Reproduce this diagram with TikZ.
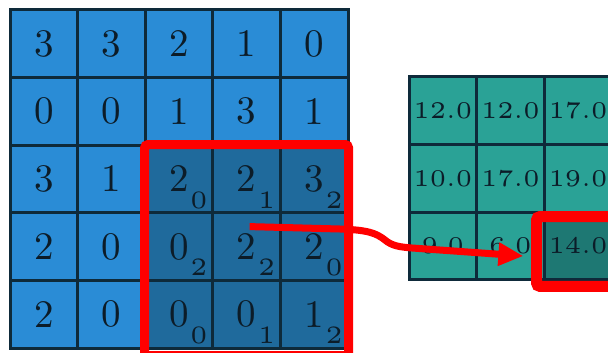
\documentclass[tikz,border=0pt]{standalone}
\usepackage{xcolor}
\usetikzlibrary{positioning,arrows.meta}

\definecolor{inblue}{RGB}{42,140,214}
\definecolor{indark}{RGB}{31,106,156}
\definecolor{outteal}{RGB}{42,162,150}
\definecolor{outdark}{RGB}{30,120,115}
\definecolor{gridline}{RGB}{14,42,58}
\definecolor{digit}{RGB}{12,28,40}

\newcommand{\bignum}[1]{\scalebox{3.9}{#1}}
\newcommand{\smallnum}[1]{\scalebox{4.8}{\tiny #1}}
\newcommand{\subnum}[1]{\scalebox{5.0}{\tiny #1}}

\begin{document}
\begin{tikzpicture}[x=1pt,y=-1pt,
      incell/.style={draw=gridline,line width=3pt,minimum size=67.6pt,inner sep=0pt,fill=inblue,text=digit},
      outcell/.style={draw=gridline,line width=3pt,minimum size=67.6pt,inner sep=0pt,fill=outteal,text=digit},
      sub/.style={inner sep=0pt,text=digit},
      hilite/.style={draw=red,line width=9pt,rounded corners=3pt},
      arr/.style={draw=red,line width=7pt,-{Triangle[length=25pt,width=22pt]}}]
    \useasboundingbox (0,0) rectangle (608,353);
    \clip (0,0) rectangle (608,353);
    % input feature map
    \foreach \row [count=\r from 0] in {{3,3,2,1,0},{0,0,1,3,1},{3,1,2,2,3},{2,0,0,2,2},{2,0,0,0,1}} {
      \foreach \v [count=\c from 0] in \row {
        \def\fillc{inblue}\ifnum\r>1 \ifnum\c>1 \def\fillc{indark}\fi\fi
        \node[incell,fill=\fillc] (in\r\c) at (43.8+67.6*\c, 43.8+67.6*\r) {\bignum{\v}};
      }
    }
    % kernel weights
    \foreach \r/\c/\w in {2/2/0,2/3/1,2/4/2,3/2/2,3/3/2,3/4/0,4/2/0,4/3/1,4/4/2}
      \node[sub] (w\r\c) at ([shift={(20,21)}]in\r\c.center) {\subnum{\w}};
    % output feature map
    \foreach \row [count=\r from 0] in {{12.0,12.0,17.0},{10.0,17.0,19.0},{9.0,6.0,14.0}} {
      \foreach \v [count=\c from 0] in \row
        \node[outcell] (out\r\c) at (442.8+67.6*\c, 110.8+67.6*\r) {\smallnum{\v}};
    }
    \node[outcell,fill=outdark] at (out22) {\smallnum{14.0}};
    % highlights
    \draw[hilite] (in22.north west) ++(1,1) rectangle ([shift={(-1,6)}]in44.south east);
    \draw[hilite,line width=11pt] ([shift={(-6,6)}]out22.north west) rectangle ([shift={(8,5)}]out22.south east);
    \coordinate (from) at ([shift={(3,-20)}]in33.center);
    \coordinate (to) at ([shift={(13,10)}]out21.center);
    \draw[arr] (from) -- (340,229) .. controls (368,230) and (376,233) .. (385,240)
      .. controls (392,246) and (400,247) .. (412,248) -- (to);
  \end{tikzpicture}
\end{document}
